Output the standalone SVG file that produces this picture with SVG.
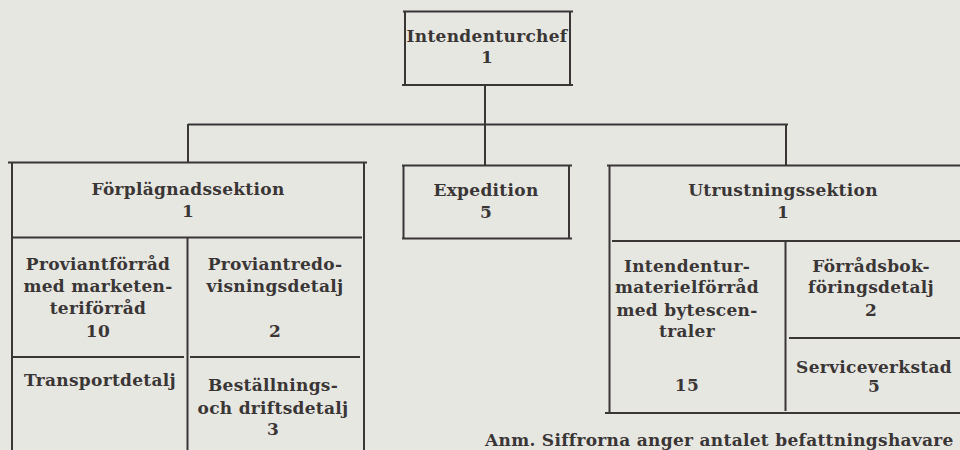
<svg xmlns="http://www.w3.org/2000/svg" width="960" height="450" viewBox="0 0 960 450">
<style>
.bg{fill:#e7e7e2}
.ln{stroke:#3a3636;stroke-width:2;fill:none;stroke-linecap:butt}
text{font-family:"DejaVu Serif","Liberation Serif",serif;font-weight:bold;font-size:17px;letter-spacing:0.3px;fill:#3a3636;text-anchor:middle}
.note{text-anchor:start}
</style>
<rect class="bg" x="0" y="0" width="960" height="450"/>
<g id="connectors">
<path class="ln" d="M485,85V165M188,124.5H788M188,124V162M786,124V165"/>
</g>
<g id="intendenturchef">
<path class="ln" d="M403,11.5H573M405,11V84M570,11V84M402,85H573"/>
<text x="487" y="42">Intendenturchef</text>
<text x="487" y="63">1</text>
</g>
<g id="forplagnadssektion">
<path class="ln" d="M8,162.5H367M12,162V450M364,162V450M13,237.5H362"/>
<text x="188" y="195">Förplägnadssektion</text>
<text x="188" y="217">1</text>
</g>
<g id="forplagnad-detaljer">
<path class="ln" d="M187.5,238V450M13,357H184M190,357H360"/>
</g>
<g id="proviantforrad">
<text x="98" y="270">Proviantförråd</text>
<text x="98" y="292">med marketen-</text>
<text x="98" y="314">teriförråd</text>
<text x="98" y="337">10</text>
</g>
<g id="proviantredovisning">
<text x="275" y="270">Proviantredo-</text>
<text x="275" y="292">visningsdetalj</text>
<text x="275" y="337">2</text>
</g>
<g id="transportdetalj">
<text x="100" y="386">Transportdetalj</text>
</g>
<g id="bestallningsdetalj">
<text x="273" y="391">Beställnings-</text>
<text x="273" y="414">och driftsdetalj</text>
<text x="273" y="435">3</text>
</g>
<g id="expedition">
<path class="ln" d="M402,165.5H572M403.5,165V238M569,165V238M402,238.5H572"/>
<text x="486" y="196">Expedition</text>
<text x="486" y="218">5</text>
</g>
<g id="utrustningssektion">
<path class="ln" d="M607,165.5H960M609.5,165V412M612,241H960M605,413H960"/>
<text x="783" y="196">Utrustningssektion</text>
<text x="783" y="218">1</text>
</g>
<g id="utrustning-detaljer">
<path class="ln" d="M785.5,242V411M789,338H960"/>
</g>
<g id="materielforrad">
<text x="687" y="272">Intendentur-</text>
<text x="687" y="293">materielförråd</text>
<text x="687" y="316">med bytescen-</text>
<text x="687" y="337">traler</text>
<text x="687" y="391">15</text>
</g>
<g id="forradsbokforing">
<text x="871" y="272">Förrådsbok-</text>
<text x="871" y="293">föringsdetalj</text>
<text x="871" y="316">2</text>
</g>
<g id="serviceverkstad">
<text x="874" y="373">Serviceverkstad</text>
<text x="874" y="392">5</text>
</g>
<text class="note" x="485" y="446">Anm. Siffrorna anger antalet befattningshavare</text>
</svg>
